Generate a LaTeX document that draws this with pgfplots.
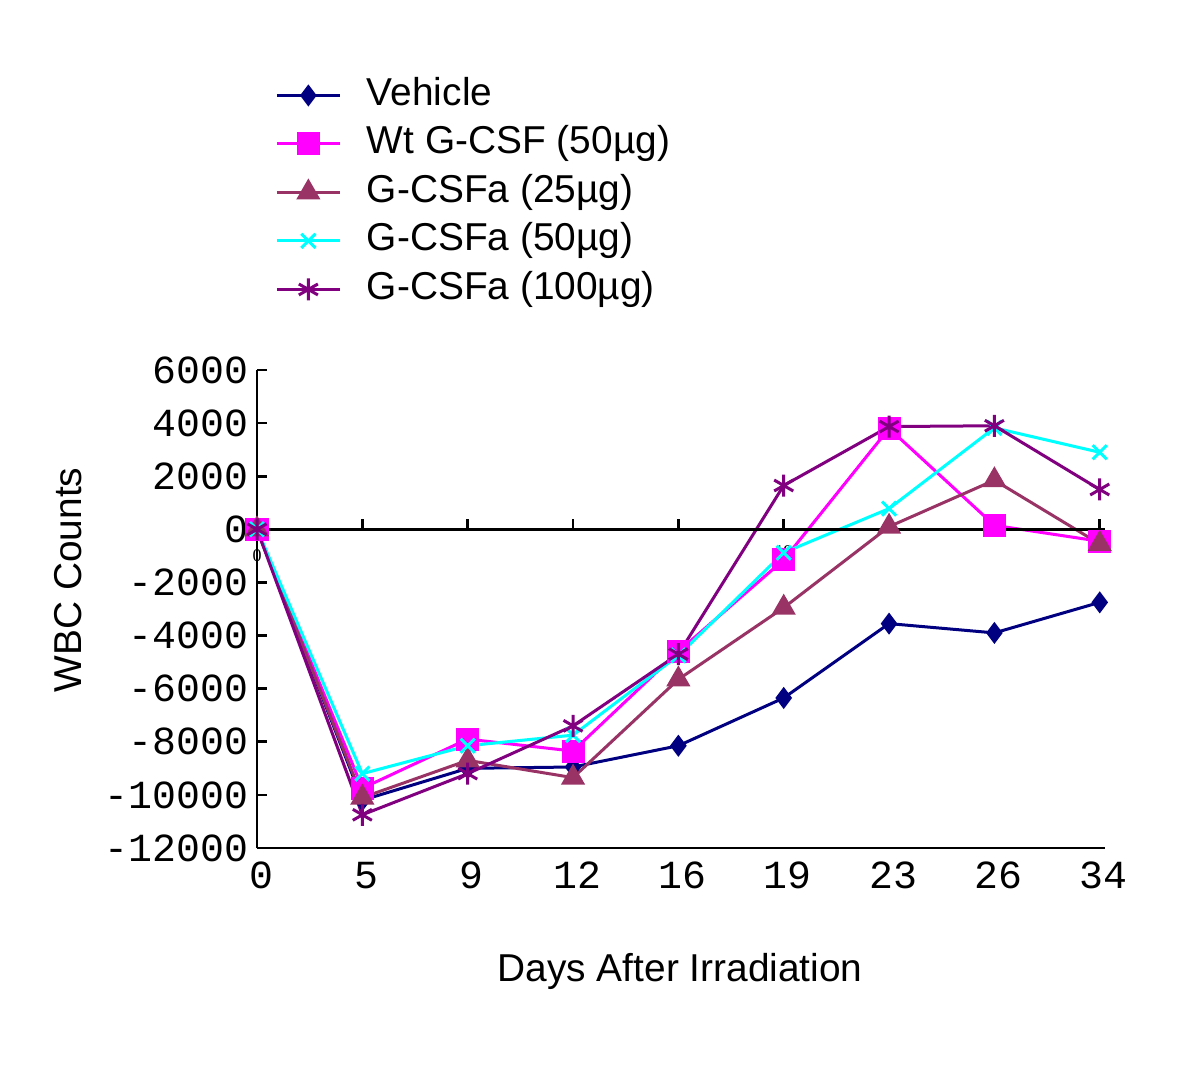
\documentclass[border=0pt]{standalone}
\usepackage{fontspec}
\setmainfont{Liberation Sans}
\newfontfamily\monofont{Liberation Mono}
\newfontfamily\seriffont{Liberation Serif}
\usepackage{pgfplots}
\pgfplotsset{compat=1.18}
\definecolor{cVeh}{RGB}{0,0,128}
\definecolor{cWt}{RGB}{255,0,255}
\definecolor{cA25}{RGB}{153,51,102}
\definecolor{cA50}{RGB}{0,255,255}
\definecolor{cA100}{RGB}{128,0,128}
\begin{document}
\begin{tikzpicture}
\path[use as bounding box] (0,0) rectangle (600bp,540bp);
\begin{axis}[
  at={(128.5bp,116bp)}, anchor=south west,
  scale only axis, width=424bp, height=239bp,
  xmin=0, xmax=8.05, ymin=-12000, ymax=6000,
  axis x line*=bottom, axis y line*=left,
  x axis line style={-}, y axis line style={-},
  axis line style={line width=1.3pt},
  xtick={0,1,2,3,4,5,6,7,8},
  xticklabels={0,5,9,12,16,19,23,26,34},
  major x tick style={draw=none},
  ytick={-12000,-10000,...,6000},
  scaled y ticks=false,
  tick align=inside,
  major tick length=5bp,
  major y tick style={line width=1.3pt, black},
  tick label style={font=\monofont\fontsize{20}{20}\selectfont},
  xticklabel style={yshift=-3.5bp, xshift=2bp},
  yticklabel style={xshift=-1bp},
  /pgf/number format/assume math mode=true,
  /pgf/number format/set thousands separator={},
  xlabel={Days After Irradiation},
  ylabel={WBC Counts},
  label style={font=\fontsize{19.5}{22}\selectfont},
  xlabel style={at={(axis description cs:0.499,-0.259)}, anchor=center},
  ylabel style={at={(axis description cs:-0.223,0.561)}, anchor=center},
  clip=false,
  legend cell align=left,
  legend style={at={(axis description cs:0.0212,1.617)}, anchor=north west,
    draw=none, fill=none, inner sep=0pt, row sep=4.25bp, column sep=12.8bp,
    font=\fontsize{19.5}{22}\selectfont,
    nodes={inner sep=0pt, text height=15bp, text depth=5bp}},
  legend image code/.code={
    \draw[#1, mark=none] (0bp,0bp) -- (31.5bp,0bp);
    \draw[#1, only marks] plot coordinates {(15.75bp,0bp)};
  },
  every axis plot/.append style={line width=1.5bp},
]
\addplot[cVeh, mark=diamond*, mark size=4.3bp, mark options={fill=cVeh}]
  coordinates {(0,0) (1,-10200) (2,-9000) (3,-8950) (4,-8150) (5,-6350) (6,-3550) (7,-3900) (8,-2750)};
\addlegendentry{Vehicle}
\addplot[cWt, mark=square*, mark size=5bp, mark options={fill=cWt}]
  coordinates {(0,0) (1,-9750) (2,-7900) (3,-8350) (4,-4600) (5,-1150) (6,3800) (7,150) (8,-450)};
\addlegendentry{Wt G-CSF (50µg)}
\addplot[cA25, mark=triangle*, mark size=5.5bp, mark options={fill=cA25}]
  coordinates {(0,0) (1,-10100) (2,-8700) (3,-9350) (4,-5650) (5,-2950) (6,100) (7,1850) (8,-550)};
\addlegendentry{G-CSFa (25µg)}
\addplot[cA50, mark=x, mark size=5bp]
  coordinates {(0,0) (1,-9200) (2,-8150) (3,-7750) (4,-4750) (5,-880) (6,780) (7,3820) (8,2900)};
\addlegendentry{G-CSFa (50µg)}
\addplot[cA100, mark=asterisk, mark size=5.5bp]
  coordinates {(0,0) (1,-10750) (2,-9200) (3,-7400) (4,-4700) (5,1650) (6,3870) (7,3900) (8,1500)};
\addlegendentry{G-CSFa (100µg)}
% zero line with its ticks
\draw[line width=1.3pt, black] (axis cs:0,0) -- (axis cs:8.05,0);
\addplot[black, line width=1.3pt, ycomb, no marks, forget plot]
  coordinates {(1,380) (2,380) (3,380) (4,380) (5,380) (6,380) (7,380) (8,380)};
\node[font=\seriffont\fontsize{9}{9}\selectfont] at (axis cs:0,-1000) {0};
\node[font=\seriffont\fontsize{9}{9}\selectfont] at (axis cs:5,-850) {19};
\end{axis}
\end{tikzpicture}
\end{document}
